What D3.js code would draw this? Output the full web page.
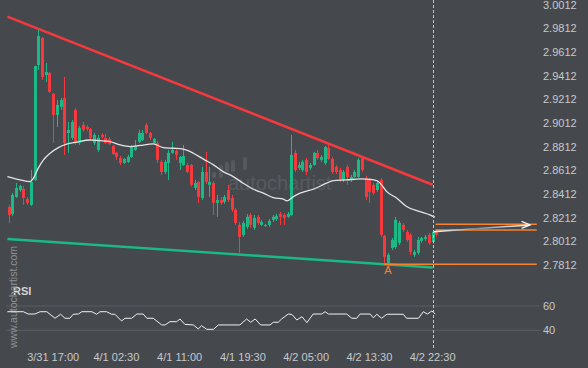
<!DOCTYPE html>
<html>
<head>
<meta charset="utf-8">
<script src="https://cdn.jsdelivr.net/npm/d3@7"></script>
<style>
    body { margin: 0; background: #45494e; }
    svg { display: block; font-family: "Liberation Sans", Arial, sans-serif; }
</style>
</head>
<body>
<div id="chart"></div>
<script>
// candles (30 min bars), index 0..115
var opens = [2.8305,2.8246,2.8389,2.8448,2.8457,2.8372,2.8322,2.8533,2.9503,2.9731,2.9419,2.9436,2.9259,2.9081,2.9149,2.9225,
    2.8929,2.8887,2.9124,2.8845,2.8997,2.8980,2.8963,2.8845,2.8786,2.8913,2.8887,2.8879,2.8820,2.8761,2.8718,2.8676,2.8685,2.8727,2.8786,2.8854,2.8870,
    2.8997,2.8929,2.8845,2.8845,2.8685,2.8600,2.8676,2.8761,2.8778,2.8676,2.8659,2.8659,2.8659,2.8465,2.8516,2.8381,2.8600,2.8491,2.8507,2.8339,2.8364,2.8347,2.8448,2.8381,2.8280,2.8153,2.8069,2.8136,2.8237,2.8128,2.8221,2.8153,2.8145,2.8153,2.8195,2.8204,2.8246,2.8237,2.8221,
    2.8237,2.8761,2.8634,2.8617,2.8702,2.8634,2.8659,2.8761,2.8702,2.8676,2.8803,2.8710,2.8643,2.8617,2.8533,2.8643,2.8533,2.8558,2.8558,2.8718,2.8550,2.8533,2.8491,2.8448,2.8533,2.8060,2.7832,2.7959,2.7967,2.8001,2.8153,2.8094,2.8069,2.7900,2.7917,2.8018,2.8035,2.8069,2.8010,2.8094];
var highs = [2.8322,2.8423,2.8507,2.8491,2.8482,2.8389,2.8617,2.9495,2.9799,2.9740,2.9520,2.9444,2.9267,2.9208,2.9225,2.9402,
    2.9022,2.9039,2.9141,2.8989,2.9022,2.8997,2.8972,2.8929,2.8913,2.8929,2.8921,2.8896,2.8828,2.8769,2.8735,2.8718,2.8744,2.8828,2.8870,2.8955,2.8955,
    2.9014,2.8938,2.8887,2.8862,2.8702,2.8702,2.8786,2.8854,2.8794,2.8735,2.8828,2.8676,2.8668,2.8533,2.8524,2.8643,2.8769,2.8643,2.8524,2.8406,2.8389,2.8406,2.8491,2.8406,2.8296,2.8178,2.8187,2.8246,2.8254,2.8237,2.8237,2.8195,2.8161,2.8204,2.8237,2.8246,2.8263,2.8254,2.8263,
    2.8913,2.8786,2.8685,2.8702,2.8718,2.8676,2.8769,2.8786,2.8744,2.8820,2.8845,2.8727,2.8659,2.8634,2.8617,2.8659,2.8575,2.8617,2.8718,2.8735,2.8567,2.8550,2.8507,2.8524,2.8550,2.8069,2.7917,2.8043,2.8221,2.8187,2.8170,2.8111,2.8085,2.7942,2.8052,2.8052,2.8069,2.8085,2.8111,2.8111];
var lows = [2.8170,2.8229,2.8381,2.8432,2.8322,2.8322,2.8313,2.8524,2.9461,2.9377,2.9360,2.9267,2.8845,2.8980,2.9124,2.8744,
    2.8761,2.8870,2.8828,2.8828,2.8938,2.8946,2.8870,2.8828,2.8769,2.8879,2.8837,2.8828,2.8744,2.8702,2.8659,2.8668,2.8676,2.8718,2.8778,2.8845,2.8862,
    2.8921,2.8870,2.8837,2.8676,2.8575,2.8583,2.8533,2.8752,2.8702,2.8617,2.8651,2.8592,2.8474,2.8448,2.8339,2.8364,2.8499,2.8389,2.8237,2.8221,2.8322,2.8330,2.8347,2.8263,2.8153,2.7917,2.8052,2.8119,2.8128,2.8111,2.8153,2.8145,2.8136,2.8136,2.8178,2.8187,2.8153,2.8153,2.8212,
    2.8229,2.8600,2.8617,2.8600,2.8575,2.8617,2.8651,2.8702,2.8685,2.8659,2.8702,2.8583,2.8583,2.8516,2.8516,2.8491,2.8516,2.8550,2.8550,2.8600,2.8364,2.8339,2.8406,2.8432,2.8052,2.7832,2.7824,2.7942,2.7950,2.7984,2.8094,2.8010,2.7900,2.7883,2.7900,2.8001,2.8018,2.7984,2.7993,2.8052];
var closes = [2.8237,2.8406,2.8465,2.8482,2.8381,2.8339,2.8516,2.9495,2.9748,2.9402,2.9444,2.9276,2.9081,2.9166,2.9208,2.8845,
    2.8955,2.9022,2.8845,2.8972,2.8955,2.8963,2.8887,2.8913,2.8887,2.8896,2.8845,2.8837,2.8752,2.8727,2.8676,2.8710,2.8727,2.8811,2.8820,2.8929,2.8929,
    2.8929,2.8887,2.8879,2.8702,2.8600,2.8685,2.8761,2.8786,2.8744,2.8727,2.8735,2.8600,2.8491,2.8507,2.8389,2.8600,2.8516,2.8516,2.8339,2.8364,2.8339,2.8389,2.8364,2.8280,2.8170,2.8052,2.8170,2.8221,2.8153,2.8212,2.8170,2.8178,2.8153,2.8187,2.8221,2.8229,2.8221,2.8212,2.8246,
    2.8744,2.8617,2.8659,2.8685,2.8600,2.8659,2.8761,2.8718,2.8727,2.8811,2.8710,2.8600,2.8600,2.8533,2.8600,2.8558,2.8558,2.8600,2.8702,2.8617,2.8389,2.8432,2.8423,2.8507,2.8069,2.7883,2.7900,2.8026,2.8195,2.8170,2.8111,2.8026,2.7925,2.7925,2.8026,2.8043,2.8052,2.8001,2.8094,2.8069];

// moving average (index, price)
var maIndex = [-0.3,3.1,5.8,6.7,8.0,9.4,11.2,13.4,15.6,18.3,21.9,24.6,27.3,30.0,32.7,35.4,38.9,41.6,44.3,47.0,49.7,52.4,55.1,57.7,60.4,63.1,65.8,68.5,71.2,73.9,74.8,76.6,78.4,81.9,85.5,87.3,90.9,94.5,96.3,99.0,99.9,101.7,104.4,107.0,110.6,113.3,114.6];
var maValue = [2.8561,2.8533,2.8518,2.8547,2.8632,2.8702,2.8758,2.8805,2.8834,2.8851,2.8870,2.8864,2.8856,2.8828,2.8814,2.8824,2.8837,2.8805,2.8800,2.8792,2.8758,2.8708,2.8660,2.8603,2.8561,2.8505,2.8454,2.8421,2.8383,2.8370,2.8356,2.8392,2.8421,2.8454,2.8505,2.8527,2.8533,2.8541,2.8539,2.8527,2.8505,2.8434,2.8378,2.8308,2.8265,2.8237,2.8218];

// RSI (index, value)
var rsiIndex = [-0.3,4.0,5.3,7.1,8.5,10.3,12.5,14.0,15.2,16.5,17.4,18.8,19.7,22.4,23.7,24.6,26.4,27.7,28.6,30.4,31.3,33.1,34.5,36.2,37.2,38.9,41.2,42.1,43.4,45.2,46.1,47.4,49.7,51.0,51.9,53.3,55.1,56.4,62.2,64.0,65.1,66.3,67.8,70.3,71.2,72.5,73.4,75.2,76.2,77.5,78.9,80.2,81.9,84.2,85.1,86.0,90.9,92.3,93.6,94.5,97.2,98.1,99.0,100.3,101.7,106.1,107.0,110.2,111.5,112.6,113.8,114.7];
var rsiValue = [55.3,55.3,53.4,53.4,55.3,55.3,49.9,53.2,49.9,49.9,53.2,53.4,55.3,55.3,53.2,55.3,55.3,53.2,53.2,47.7,49.9,49.9,53.4,53.4,49.9,49.9,44.4,44.4,47.1,47.1,49.3,44.9,44.4,41.1,43.8,40.8,40.8,44.4,44.4,49.3,46.6,49.3,44.4,44.4,46.6,46.6,49.3,53.4,53.0,48.5,51.2,46.3,53.4,53.4,55.3,53.4,53.4,49.9,49.9,53.4,53.4,50.3,53.2,49.9,53.2,53.2,49.9,49.9,55.3,53.4,55.9,53.4];

// pattern lines
var resistanceIndex = [-0.3, 114];
var resistancePrice = [2.9911, 2.8492];
var supportIndex = [-0.3, 114];
var supportPrice = [2.8035, 2.7793];
var levelPrice = 2.7821;          // horizontal level at point A
var levelIndex = [101, 142];
var targetPrices = [2.8159, 2.8111];
var targetIndex = [114.8, 142];
var arrowIndex = [114.2, 140.2];
var arrowPrice = [2.8096, 2.8153];
var pointAIndex = 102;

var priceTicks = [3.0012,2.9812,2.9612,2.9412,2.9212,2.9012,2.8812,2.8612,2.8412,2.8212,2.8012,2.7812];
var timeTickIndex = [12, 29, 46, 63, 80, 97, 114];
var timeTickLabels = ['3/31 17:00', '4/1 02:30', '4/1 11:00', '4/1 19:30', '4/2 05:00', '4/2 13:30', '4/2 22:30'];
var rsiTicks = [60, 40];

var width = 588, height = 368;
var lastIndex = 114;

var x = d3.scaleLinear().domain([0, lastIndex]).range([8.5, 432.6]);
var y = d3.scaleLinear().domain([2.7812, 3.0012]).range([265.3, 4.7]);
var yr = d3.scaleLinear().domain([40, 60]).range([330.3, 306]);

var green = '#1bb985', red = '#f5393c', orange = '#f7822e';

var svg = d3.select('#chart').append('svg')
    .attr('width', width)
    .attr('height', height);

svg.append('rect').attr('width', width).attr('height', height).attr('fill', '#45494e');

// watermark in the middle
var wm = svg.append('g').attr('opacity', 0.09);
[[0, 172, 6], [7, 165, 13], [13, 162, 10], [19, 160, 12], [31, 157, 13]].forEach(function (b) {
    wm.append('rect')
        .attr('x', 212 + b[0]).attr('y', b[1])
        .attr('width', 4).attr('height', b[2]).attr('rx', 1.5)
        .attr('fill', '#fff');
});
wm.append('text')
    .attr('x', 228).attr('y', 190)
    .attr('font-size', 20)
    .attr('fill', '#fff')
    .text('autochartist');

// RSI grid lines
svg.selectAll('.rsi-grid')
    .data(rsiTicks).enter().append('line')
    .attr('x1', 6).attr('x2', 540)
    .attr('y1', function (d) { return yr(d); })
    .attr('y2', function (d) { return yr(d); })
    .attr('stroke', '#5b5f64').attr('stroke-width', 1);

// price labels
svg.selectAll('.price-label')
    .data(priceTicks).enter().append('text')
    .attr('x', 543)
    .attr('y', function (d) { return y(d); })
    .attr('dy', '0.35em')
    .attr('font-size', 11)
    .attr('fill', '#c6c8cb')
    .text(function (d) { return d.toFixed(4); });

svg.selectAll('.rsi-label')
    .data(rsiTicks).enter().append('text')
    .attr('x', 543)
    .attr('y', function (d) { return yr(d); })
    .attr('dy', '0.35em')
    .attr('font-size', 11)
    .attr('fill', '#c6c8cb')
    .text(function (d) { return d; });

// time labels
svg.selectAll('.time-label')
    .data(timeTickIndex).enter().append('text')
    .attr('x', function (d) { return x(d); })
    .attr('y', 360.5)
    .attr('text-anchor', 'middle')
    .attr('font-size', 11)
    .attr('fill', '#c6c8cb')
    .text(function (d, i) { return timeTickLabels[i]; });

// support and resistance lines
var trend = d3.line()
    .x(function (d) { return x(d[0]); })
    .y(function (d) { return y(d[1]); });

svg.append('path')
    .datum(d3.zip(supportIndex, supportPrice))
    .attr('d', trend)
    .attr('stroke', green).attr('stroke-width', 2.5).attr('fill', 'none');

svg.append('path')
    .datum(d3.zip(resistanceIndex, resistancePrice))
    .attr('d', trend)
    .attr('stroke', red).attr('stroke-width', 2.5).attr('fill', 'none');

// candles
var candles = d3.range(opens.length).map(function (i) {
    return {i: i, o: opens[i], h: highs[i], l: lows[i], c: closes[i]};
});

var g = svg.append('g');
g.selectAll('.wick')
    .data(candles).enter().append('line')
    .attr('x1', function (d) { return Math.round(x(d.i)) + 0.5; })
    .attr('x2', function (d) { return Math.round(x(d.i)) + 0.5; })
    .attr('y1', function (d) { return y(d.h); })
    .attr('y2', function (d) { return y(d.l); })
    .attr('stroke', function (d) { return d.c >= d.o ? green : red; })
    .attr('stroke-width', 1);

g.selectAll('.body')
    .data(candles).enter().append('rect')
    .attr('x', function (d) { return Math.round(x(d.i)) - 1; })
    .attr('width', 3)
    .attr('y', function (d) { return y(Math.max(d.o, d.c)); })
    .attr('height', function (d) { return Math.max(1, Math.abs(y(d.o) - y(d.c))); })
    .attr('fill', function (d) { return d.c >= d.o ? green : red; });

// moving average
svg.append('path')
    .datum(d3.zip(maIndex, maValue))
    .attr('d', trend.curve(d3.curveMonotoneX))
    .attr('stroke', '#e4e4e4').attr('stroke-width', 1.3).attr('fill', 'none');

// level lines (orange)
svg.append('line')
    .attr('x1', x(levelIndex[0])).attr('x2', x(levelIndex[1]))
    .attr('y1', y(levelPrice)).attr('y2', y(levelPrice))
    .attr('stroke', orange).attr('stroke-width', 1.5);

svg.selectAll('.target')
    .data(targetPrices).enter().append('line')
    .attr('x1', x(targetIndex[0])).attr('x2', x(targetIndex[1]))
    .attr('y1', function (d) { return y(d); })
    .attr('y2', function (d) { return y(d); })
    .attr('stroke', orange).attr('stroke-width', 1.5);

// forecast arrow
var defs = svg.append('defs');
var grad = defs.append('linearGradient').attr('id', 'arrowGrad')
    .attr('gradientUnits', 'userSpaceOnUse')
    .attr('x1', x(arrowIndex[0])).attr('x2', x(arrowIndex[1]))
    .attr('y1', 0).attr('y2', 0);
grad.append('stop').attr('offset', '0%').attr('stop-color', '#ffffff');
grad.append('stop').attr('offset', '45%').attr('stop-color', '#8a8c90');
grad.append('stop').attr('offset', '100%').attr('stop-color', '#ffffff');

var ax0 = x(arrowIndex[0]), ay0 = y(arrowPrice[0]);
var ax1 = x(arrowIndex[1]), ay1 = y(arrowPrice[1]);
svg.append('line')
    .attr('x1', ax0).attr('y1', ay0).attr('x2', ax1).attr('y2', ay1)
    .attr('stroke', 'url(#arrowGrad)').attr('stroke-width', 1.5);
svg.append('path')
    .attr('d', 'M' + (ax1 - 8.5) + ',' + (ay1 - 3.5) + 'L' + ax1 + ',' + ay1 + 'L' + (ax1 - 8.5) + ',' + (ay1 + 3.5))
    .attr('stroke', '#f2f2f2').attr('stroke-width', 1.3).attr('fill', 'none');

// point A
svg.append('text')
    .attr('x', x(pointAIndex))
    .attr('y', y(levelPrice) + 10)
    .attr('text-anchor', 'middle')
    .attr('font-size', 11)
    .attr('fill', orange)
    .text('A');

// RSI line
svg.append('path')
    .datum(d3.zip(rsiIndex, rsiValue))
    .attr('d', d3.line()
        .x(function (d) { return x(d[0]); })
        .y(function (d) { return yr(d[1]); }))
    .attr('stroke', '#f0f0f0').attr('stroke-width', 1).attr('fill', 'none');

svg.append('text')
    .attr('x', 13).attr('y', 295)
    .attr('font-size', 11).attr('font-weight', 'bold')
    .attr('fill', '#d2d4d6')
    .text('RSI');

// current bar marker
svg.append('line')
    .attr('x1', Math.round(x(lastIndex)) + 0.5).attr('x2', Math.round(x(lastIndex)) + 0.5)
    .attr('y1', 0).attr('y2', 350)
    .attr('stroke', '#c4c6c8').attr('stroke-width', 1)
    .attr('stroke-dasharray', '3,2');

// vertical watermark
svg.append('text')
    .attr('transform', 'translate(17,348) rotate(-90)')
    .attr('font-size', 10.5)
    .attr('fill', '#8e9195')
    .text('www.autochartist.com');
</script>
</body>
</html>
